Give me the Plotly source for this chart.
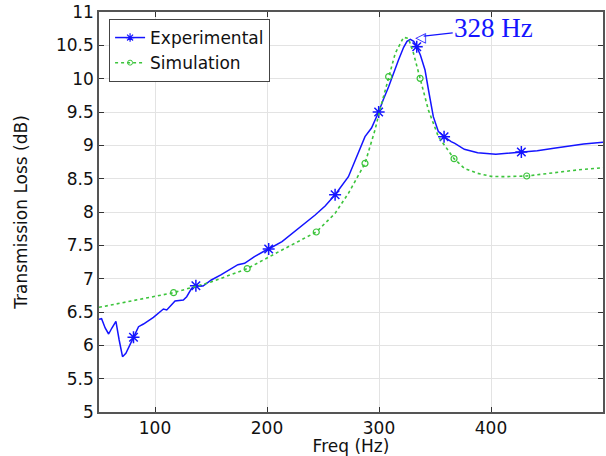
import plotly.graph_objects as go

# ---- data ----
exp_freq = [50, 52.3, 55.5, 58.6, 61.5, 65.1, 68, 71, 74, 77.8, 80.8, 85.3, 89.7, 98.6,
            107.5, 110.5, 117.9, 125.3, 128.3, 132.7, 136.5, 142.9, 150.3, 159.2, 168,
            174, 180, 188.8, 197.7, 201.5, 213.4, 228.2, 243, 251.9, 260.8, 272.7,
            281.5, 287.5, 293.3, 299.7, 303.7, 308.6, 317.4, 322, 325, 328, 331,
            333.7, 337, 341.1, 344.5, 348.5, 352.9, 358.1, 364.4, 367.7, 376.2, 388.1,
            404.3, 414.7, 427.1, 441.3, 456.1, 470.8, 482.7, 500]
exp_tl = [6.39, 6.40, 6.26, 6.17, 6.26, 6.36, 6.08, 5.83, 5.88, 6.03, 6.12, 6.28, 6.32, 6.42,
          6.545, 6.53, 6.665, 6.68, 6.73, 6.855, 6.895, 6.89, 6.98, 7.06, 7.15,
          7.21, 7.23, 7.33, 7.415, 7.445, 7.555, 7.755, 7.955, 8.09, 8.26, 8.53,
          8.88, 9.13, 9.26, 9.50, 9.68, 9.88, 10.28, 10.47, 10.56, 10.59, 10.56,
          10.48, 10.35, 10.13, 9.80, 9.43, 9.21, 9.13, 9.055, 9.03, 8.94, 8.89,
          8.865, 8.88, 8.90, 8.92, 8.955, 8.99, 9.02, 9.045]
exp_marker_freq = [80.8, 136.5, 201.5, 260.8, 299.7, 333.7, 358.1, 427.1]

sim_freq = [50, 83, 116.6, 150, 182.3, 213.4, 244, 260.8, 272.7, 287.5, 296.4, 300.8,
            308.6, 314.5, 321.9, 326.3, 330.8, 336.7, 344.1, 353, 367, 376.2, 388.1,
            400, 411.9, 431.9, 456.1, 476.8, 500]
sim_tl = [6.57, 6.68, 6.79, 6.95, 7.15, 7.43, 7.70, 7.98, 8.28, 8.73, 9.23, 9.53,
          10.03, 10.38, 10.62, 10.605, 10.38, 10.005, 9.53, 9.13, 8.80, 8.655, 8.58,
          8.535, 8.53, 8.54, 8.59, 8.63, 8.665]
sim_marker_freq = [116.6, 182.3, 244, 287.5, 308.6, 336.7, 367, 431.9]

peak_freq = 331
peak_tl = 10.62
peak_label = "328 Hz"

x_ticks = [100, 200, 300, 400]
y_ticks = [5, 5.5, 6, 6.5, 7, 7.5, 8, 8.5, 9, 9.5, 10, 10.5, 11]

BLUE = "#1414ff"
GREEN = "#3cc43c"
FONT = "DejaVu Sans"

exp_mx = exp_marker_freq
exp_my = [exp_tl[exp_freq.index(f)] for f in exp_marker_freq]
sim_mx = sim_marker_freq
sim_my = [sim_tl[sim_freq.index(f)] for f in sim_marker_freq]

fig = go.Figure()
fig.add_trace(go.Scatter(x=exp_freq, y=exp_tl, mode="lines", line=dict(color=BLUE, width=1.5),
                         showlegend=False, hoverinfo="skip"))
fig.add_trace(go.Scatter(x=exp_mx, y=exp_my, mode="markers", showlegend=False,
                         marker=dict(symbol="asterisk-open", size=10, color=BLUE,
                                     line=dict(color=BLUE, width=1.5))))
fig.add_trace(go.Scatter(x=sim_freq, y=sim_tl, mode="lines", line=dict(color=GREEN, width=1.6, dash="dot"),
                         showlegend=False, hoverinfo="skip"))
fig.add_trace(go.Scatter(x=sim_mx, y=sim_my, mode="markers", showlegend=False,
                         marker=dict(symbol="circle-open", size=6, color=GREEN,
                                     line=dict(color=GREEN, width=1.2))))
# legend entries
fig.add_trace(go.Scatter(x=[None], y=[None], mode="lines+markers", name="Experimental",
                         line=dict(color=BLUE, width=1.5),
                         marker=dict(symbol="asterisk-open", size=7, color=BLUE,
                                     line=dict(color=BLUE, width=1.2))))
fig.add_trace(go.Scatter(x=[None], y=[None], mode="lines+markers", name="Simulation",
                         line=dict(color=GREEN, width=1.5, dash="dot"),
                         marker=dict(symbol="circle-open", size=5, color=GREEN,
                                     line=dict(color=GREEN, width=1))))

# arrow + label
fig.add_annotation(x=peak_freq, y=peak_tl, xref="x", yref="y", text=peak_label,
                   showarrow=True, arrowhead=0, arrowwidth=1.2, arrowcolor=BLUE,
                   standoff=10, ax=80, ay=-9,
                   font=dict(family="Liberation Serif", size=27, color=BLUE))
fig.add_annotation(x=peak_freq, y=peak_tl, xref="x", yref="y", text="◁",
                   showarrow=False, xanchor="left", yanchor="middle", xshift=-1,
                   font=dict(family=FONT, size=14, color=BLUE))

axis_common = dict(showline=True, linecolor="#555", linewidth=1.5, mirror="ticks",
                   ticks="inside", ticklen=5, tickcolor="#333", tickwidth=1,
                   showgrid=True, gridcolor="#e3e3e3", gridwidth=1, zeroline=False,
                   tickfont=dict(family=FONT, size=17, color="#111"))

fig.update_xaxes(range=[50, 500], tickvals=x_ticks,
                 title=dict(text="Freq (Hz)", font=dict(family=FONT, size=17, color="#111"), standoff=2),
                 **axis_common)
fig.update_yaxes(range=[5, 11], tickvals=y_ticks, ticktext=[f"{v:g}" for v in y_ticks],
                 title=dict(text="Transmission Loss (dB)", font=dict(family=FONT, size=17, color="#111"), standoff=24),
                 **axis_common)

fig.update_layout(width=606, height=456, margin=dict(l=99, r=1, t=12, b=44),
                  plot_bgcolor="white", paper_bgcolor="white",
                  legend=dict(x=0.02, y=0.9825, xanchor="left", yanchor="top",
                              bgcolor="white", bordercolor="#444", borderwidth=1,
                              font=dict(family=FONT, size=17, color="#111"),
                              tracegroupgap=0, itemwidth=30))

# remove the default page margin / scrollbars so the figure fills the window
fig.write_html("out.html", config={"displayModeBar": False},
               post_script="document.body.style.margin='0';document.body.style.overflow='hidden';")
